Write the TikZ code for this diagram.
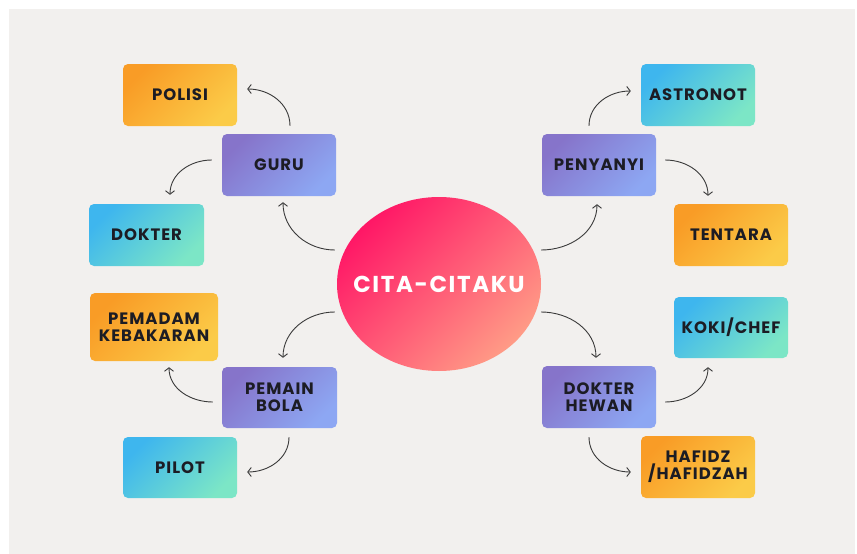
\documentclass[tikz,border=0pt]{standalone}
\usepackage{fontspec}
\setmainfont{Poppins}
\newfontfamily\titlefont[LetterSpace=7]{Poppins}
\newfontfamily\boxfont[LetterSpace=6]{Poppins}
\usetikzlibrary{arrows.meta,shapes.geometric}
\definecolor{bgcol}{HTML}{F2F0EE}
\definecolor{orangeA}{HTML}{F99C26}
\definecolor{orangeB}{HTML}{FBCB48}
\definecolor{blueA}{HTML}{3EB6EE}
\definecolor{blueB}{HTML}{7CE6C6}
\definecolor{purpleA}{HTML}{8674CA}
\definecolor{purpleB}{HTML}{8DA7F3}
\definecolor{pinkA}{HTML}{FF1766}
\definecolor{pinkB}{HTML}{FF9B86}
\definecolor{ink}{HTML}{1C1C24}
\definecolor{linecol}{HTML}{3A3A3A}
\begin{document}
\begin{tikzpicture}[x=1pt,y=1pt,
    box/.style={rounded corners=5pt,minimum width=114pt,minimum height=62pt,inner sep=0pt,
      align=center,text=ink,font=\boxfont\bfseries\fontsize{16.5}{17}\selectfont},
    orangebox/.style={box,left color=orangeA,right color=orangeB,shading angle=45},
    bluebox/.style={box,left color=blueA,right color=blueB,shading angle=45},
    purplebox/.style={box,left color=purpleA,right color=purpleB,shading angle=45},
    conn/.style={draw=linecol,line width=0.9pt,-{Straight Barb[length=3.5pt,width=9pt]}}]
  \useasboundingbox[fill=white] (0,0) rectangle (857,-554);
  \fill[bgcol] (9,-9) rectangle (855,-554);
  % centre
  \node[ellipse,minimum width=204pt,minimum height=174pt,inner sep=0pt,
        left color=pinkA,right color=pinkB,shading angle=45] (cita) at (439,-284) {};
  \node[text=white,font=\titlefont\bfseries\fontsize{23}{26}\selectfont] (citalabel) at (cita) {CITA-CITAKU};
  % left side
  \node[purplebox] (guru) at (279,-165) {GURU};
  \node[orangebox] (polisi) at (180,-95) {POLISI};
  \node[bluebox,minimum width=115pt] (dokter) at (146.5,-235) {DOKTER};
  \node[purplebox,minimum width=115pt,minimum height=61pt] (pemain) at (279.5,-397.5) {PEMAIN\\BOLA};
  \node[orangebox,minimum width=128pt,minimum height=68pt] (pemadam) at (154,-327) {PEMADAM\\KEBAKARAN};
  \node[bluebox,minimum height=61pt] (pilot) at (180,-467.5) {PILOT};
  % right side
  \node[purplebox] (penyanyi) at (599,-165) {PENYANYI};
  \node[bluebox] (astronot) at (698,-95) {ASTRONOT};
  \node[orangebox] (tentara) at (731,-235) {TENTARA};
  \node[purplebox] (dokterhewan) at (599,-397) {DOKTER\\HEWAN};
  \node[bluebox,minimum height=61pt] (koki) at (731,-327.5) {KOKI/CHEF};
  \node[orangebox] (hafidz) at (698,-467) {HAFIDZ\\/HAFIDZAH};
  % connectors
  \draw[conn] ([xshift=-2pt,yshift=34pt]cita.west) to[out=180,in=-90] ([xshift=4pt,yshift=-6pt]guru.south);
  \draw[conn] ([xshift=11pt,yshift=8pt]guru.north) to[out=90,in=0] ([xshift=10pt,yshift=6pt]polisi.east);
  \draw[conn] ([xshift=-10pt,yshift=5pt]guru.west) to[out=180,in=90] ([xshift=23.5pt,yshift=9pt]dokter.north);
  \draw[conn] ([xshift=-2pt,yshift=-28pt]cita.west) to[out=180,in=90] ([xshift=3.5pt,yshift=9pt]pemain.north);
  \draw[conn] ([xshift=-9pt,yshift=-4.5pt]pemain.west) to[out=180,in=-90] ([xshift=15pt,yshift=-6pt]pemadam.south);
  \draw[conn] ([xshift=9.5pt,yshift=-9pt]pemain.south) to[out=-90,in=0] ([xshift=10pt,yshift=-4.5pt]pilot.east);
  \draw[conn] ([yshift=34pt]cita.east) to[out=0,in=-90] ([xshift=-2pt,yshift=-8pt]penyanyi.south);
  \draw[conn] ([xshift=-10pt,yshift=8pt]penyanyi.north) to[out=90,in=180] ([xshift=-10pt,yshift=4pt]astronot.west);
  \draw[conn] ([xshift=9pt,yshift=5pt]penyanyi.east) to[out=0,in=90] ([xshift=-23pt,yshift=8pt]tentara.north);
  \draw[conn] ([yshift=-28pt]cita.east) to[out=0,in=90] ([xshift=-3pt,yshift=8pt]dokterhewan.north);
  \draw[conn] ([xshift=9pt,yshift=-5pt]dokterhewan.east) to[out=0,in=-90] ([xshift=-23pt,yshift=-9pt]koki.south);
  \draw[conn] ([xshift=-10pt,yshift=-9pt]dokterhewan.south) to[out=-90,in=180] ([xshift=-10pt,yshift=-5pt]hafidz.west);
\end{tikzpicture}
\end{document}
